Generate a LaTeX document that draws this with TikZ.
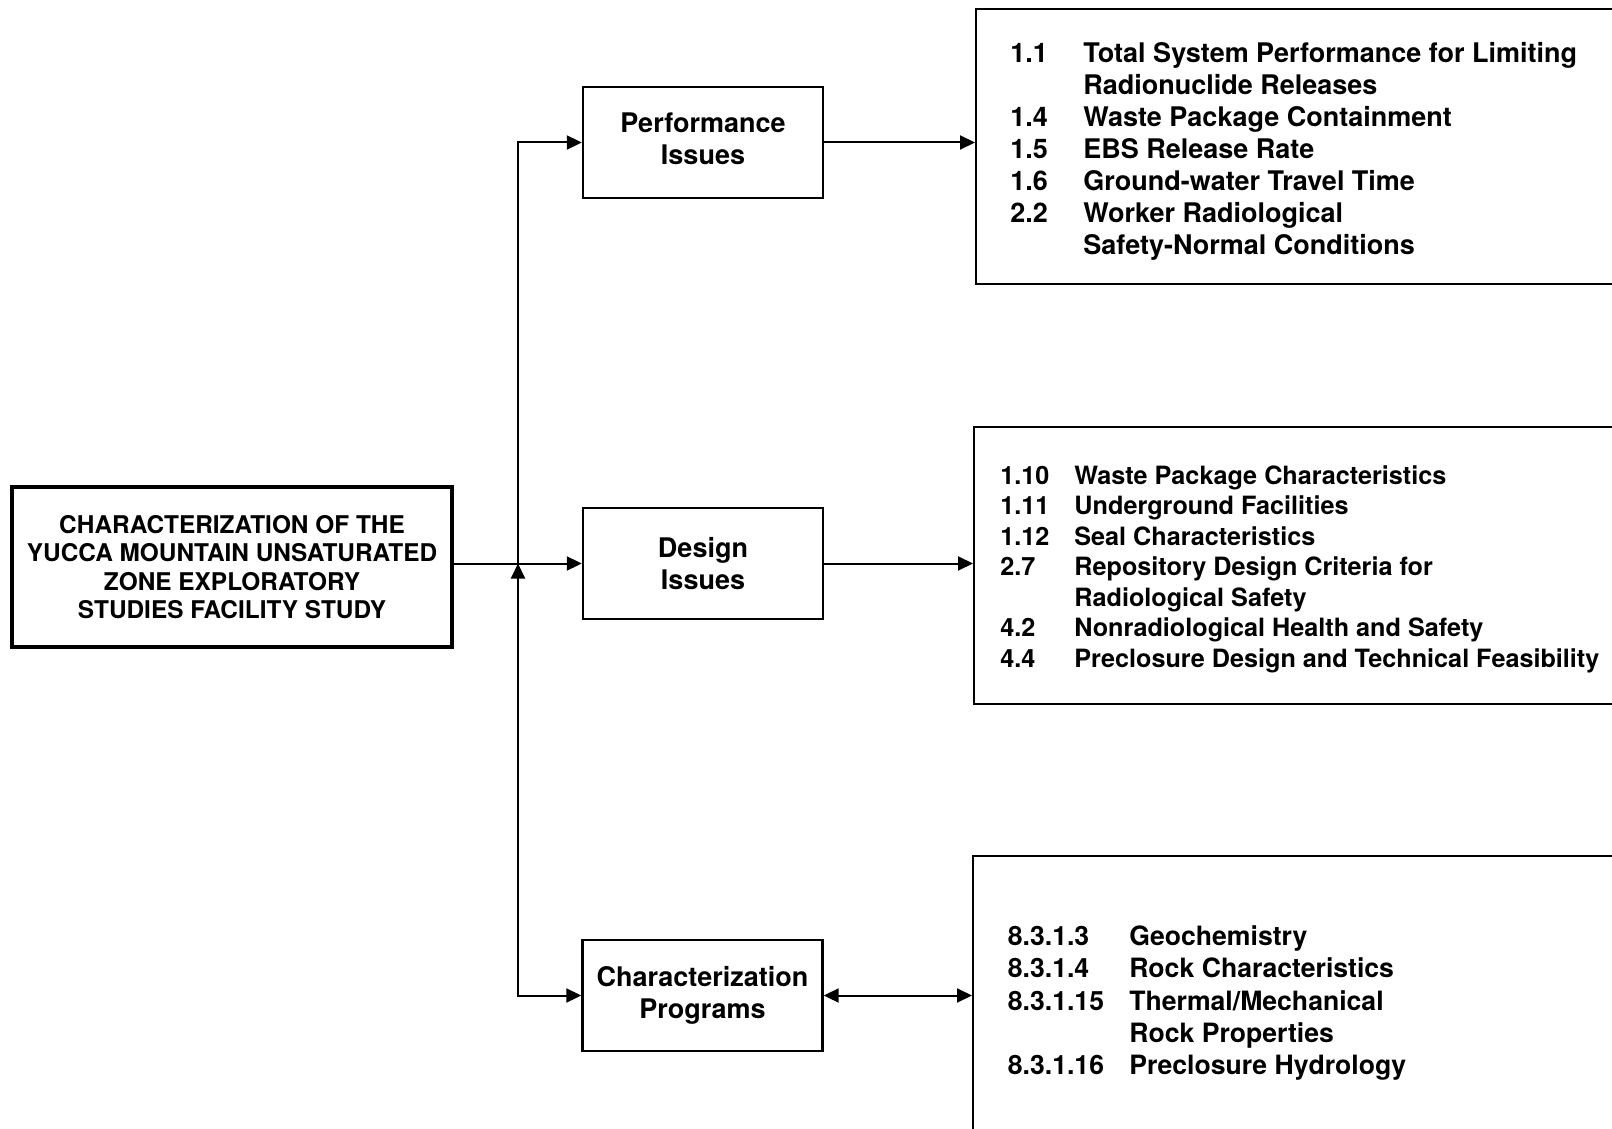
\documentclass[tikz,border=0pt]{standalone}
\usepackage{fontspec}
\setmainfont{TeX Gyre Heros}
\usetikzlibrary{arrows.meta,calc}
\newcommand\numcol[2]{\makebox[#1][l]{#2}}
\tikzset{
 box/.style={draw, line width=1.2pt, inner sep=0pt, minimum width=120pt, minimum height=55.5pt, align=center, font=\fontsize{13.5}{16}\selectfont\bfseries},
 mainbox/.style={draw, line width=2.2pt, inner sep=0pt, minimum width=220pt, minimum height=80pt, align=center, font=\fontsize{12.2}{14.25}\selectfont\bfseries},
 rbox/.style={draw, line width=1.1pt, inner sep=0pt, anchor=north west, minimum width=350pt},
 list/.style={anchor=west, inner sep=0pt, align=left},
 arr/.style={line width=1pt, -{Triangle[length=7.5pt,width=7pt]}},
 darr/.style={line width=1pt, {Triangle[length=7.5pt,width=7pt]}-{Triangle[length=7.5pt,width=7pt]}},
}
\begin{document}
\begin{tikzpicture}[x=0.5pt,y=-0.5pt]
\clip (0,0) rectangle (1612,1129);
\useasboundingbox (0,0) rectangle (1612,1129);

\node[mainbox] (main) at (232,567) {CHARACTERIZATION OF THE\\YUCCA MOUNTAIN UNSATURATED\\ZONE EXPLORATORY\\STUDIES FACILITY STUDY};

\node[box, text depth=4pt] (perf) at (703,142.5) {Performance\\Issues};
\node[box] (design) at (703,563.5) {Design\\Issues};
\node[box] (char) at (702.5,995.5) {Characterization\\Programs};

\node[rbox, minimum height=137.5pt] (r1) at (975,8) {};
\node[rbox, minimum height=138.5pt] (r2) at (973,426) {};
\node[rbox, minimum height=150pt] (r3) at (972,855) {};

\node[list, font=\fontsize{13.5}{16}\selectfont\bfseries] (l1) at (1010,151.5) {%
\numcol{36.5pt}{1.1}Total System Performance for Limiting\\
\numcol{36.5pt}{}Radionuclide Releases\\
\numcol{36.5pt}{1.4}Waste Package Containment\\
\numcol{36.5pt}{1.5}EBS Release Rate\\
\numcol{36.5pt}{1.6}Ground-water Travel Time\\
\numcol{36.5pt}{2.2}Worker Radiological\\
\numcol{36.5pt}{}Safety-Normal Conditions};

\node[list, font=\fontsize{12.6}{15.25}\selectfont\bfseries] (l2) at (1000,569) {%
\numcol{37pt}{1.10}Waste Package Characteristics\\
\numcol{37pt}{1.11}Underground Facilities\\
\numcol{37pt}{1.12}Seal Characteristics\\
\numcol{37pt}{2.7}Repository Design Criteria for\\
\numcol{37pt}{}Radiological Safety\\
\numcol{37pt}{4.2}Nonradiological Health and Safety\\
\numcol{37pt}{4.4}Preclosure Design and Technical Feasibility};

\node[list, font=\fontsize{13.3}{16.2}\selectfont\bfseries] (l3) at (1007.5,1003) {%
\numcol{60.75pt}{8.3.1.3}Geochemistry\\
\numcol{60.75pt}{8.3.1.4}Rock Characteristics\\
\numcol{60.75pt}{8.3.1.15}Thermal/Mechanical\\
\numcol{60.75pt}{}Rock Properties\\
\numcol{60.75pt}{8.3.1.16}Preclosure Hydrology};

\coordinate (jn) at (518,563.5);
\draw[arr] (main.east |- design.west) -- (design.west);
\draw[arr] (jn) |- (perf.west);
\draw[arr] (jn) |- (char.west);
\draw[arr] (char.west -| jn) -- (jn);
\draw[arr] (perf.east) -- (perf.east -| r1.west);
\draw[arr] (design.east) -- (design.east -| r2.west);
\draw[darr] (char.east) -- (char.east -| r3.west);
\end{tikzpicture}
\end{document}
